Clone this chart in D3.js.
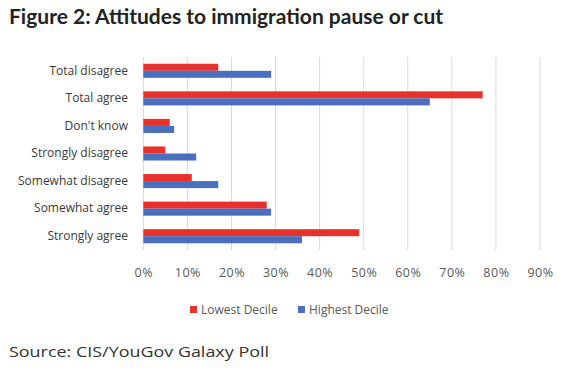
<!DOCTYPE html>
<html>
<head>
<meta charset="utf-8">
<script src="https://cdn.jsdelivr.net/npm/d3@7"></script>
<style>
	body { margin: 0; background: #fff; }
	svg text { font-family: "Open Sans", sans-serif; }
</style>
</head>
<body>
<div id="chart"></div>
<script>
// chart data, top row first
var categories = ["Total disagree", "Total agree", "Don't know", "Strongly disagree", "Somewhat disagree", "Somewhat agree", "Strongly agree"];
var lowest = [17, 77, 6, 5, 11, 28, 49];
var highest = [29, 65, 7, 12, 17, 29, 36];
var seriesNames = ["Lowest Decile", "Highest Decile"];
var tickValues = [0, 10, 20, 30, 40, 50, 60, 70, 80, 90];

var colors = ["#e8312a", "#4a6fbe"];

var svg = d3.select("#chart").append("svg")
	.attr("width", 575)
	.attr("height", 370);

// title
svg.append("text")
	.attr("x", 9)
	.attr("y", 24)
	.style("font-family", "Lato, sans-serif")
	.style("font-weight", "bold")
	.style("font-size", "21px")
	.attr("fill", "#222")
	.text("Figure 2: Attitudes to immigration pause or cut");

var x = d3.scaleLinear().domain([0, 90]).range([143.3, 540]);
var y = d3.scaleBand().domain(categories).range([57, 250]).paddingInner(0.49).paddingOuter(0.245);
var inner = d3.scaleBand().domain([0, 1]).range([0, y.bandwidth()]);

// grid lines
svg.append("g")
	.selectAll("line")
	.data(tickValues)
	.enter().append("line")
	.attr("x1", function(d) { return x(d); })
	.attr("x2", function(d) { return x(d); })
	.attr("y1", 57)
	.attr("y2", 250)
	.attr("stroke", "#d9d9d9")
	.attr("stroke-width", 1);

// x axis labels
var xAxis = d3.axisBottom(x)
	.tickValues(tickValues)
	.tickSize(0)
	.tickPadding(0)
	.tickFormat(function(d) { return d + "%"; });
var gx = svg.append("g")
	.attr("transform", "translate(0,277)")
	.call(xAxis);
gx.select(".domain").remove();
gx.selectAll("text")
	.attr("dy", 0)
	.style("font-size", "12.5px")
	.style("letter-spacing", "0.5px")
	.attr("fill", "#595959");

// category labels
var yAxis = d3.axisLeft(y).tickSize(0).tickPadding(0);
var gy = svg.append("g")
	.attr("transform", "translate(128,0)")
	.call(yAxis);
gy.select(".domain").remove();
gy.selectAll("text")
	.style("font-size", "12px")
	.attr("fill", "#3a3a3a");

// bars
var series = [lowest, highest];
series.forEach(function(vals, s) {
	svg.append("g")
		.selectAll("rect")
		.data(vals)
		.enter().append("rect")
		.attr("x", x(0))
		.attr("y", function(d, i) { return y(categories[i]) + inner(s); })
		.attr("width", function(d) { return x(d) - x(0); })
		.attr("height", inner.bandwidth())
		.attr("fill", colors[s]);
});

// legend
var legendX = [190, 298];
var legend = svg.append("g");
seriesNames.forEach(function(name, i) {
	legend.append("rect")
		.attr("x", legendX[i])
		.attr("y", 306)
		.attr("width", 7)
		.attr("height", 7)
		.attr("fill", colors[i]);
	legend.append("text")
		.attr("x", legendX[i] + 11)
		.attr("y", 314)
		.style("font-size", "12px")
		.attr("fill", "#595959")
		.text(name);
});

// source
svg.append("text")
	.attr("x", 9)
	.attr("y", 357)
	.style("font-size", "15px")
	.attr("textLength", 260)
	.attr("lengthAdjust", "spacingAndGlyphs")
	.attr("fill", "#333")
	.text("Source: CIS/YouGov Galaxy Poll");
</script>
</body>
</html>
